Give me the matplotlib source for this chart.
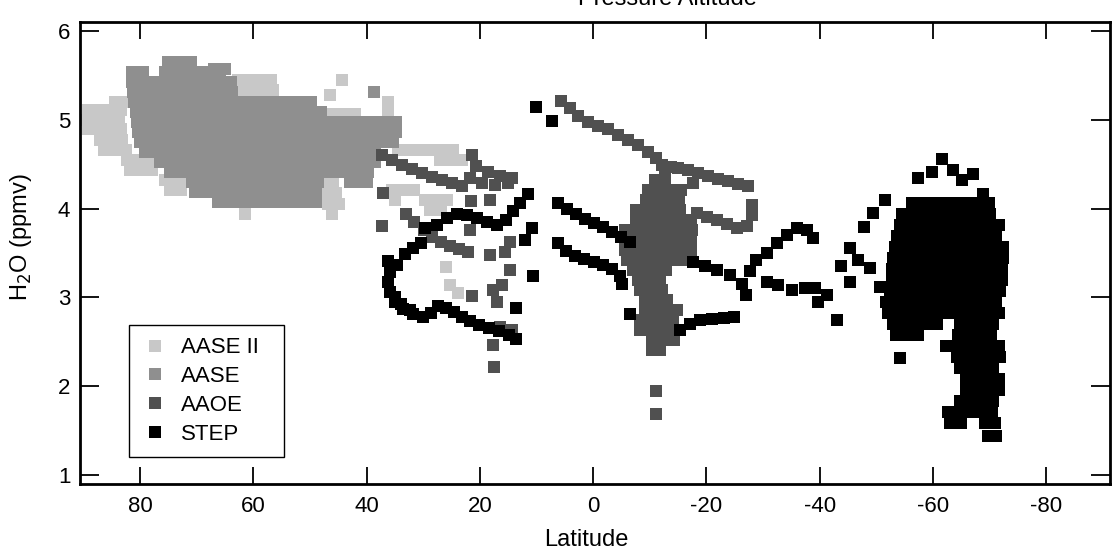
import matplotlib
matplotlib.use("Agg")
import matplotlib.pyplot as plt
from matplotlib.lines import Line2D

plt.rcParams['font.family'] = ['Liberation Sans', 'DejaVu Sans']

# ---------------- data (latitude, H2O ppmv) ----------------
series_names = ["AASE II", "AASE", "AAOE", "STEP"]
series_colors = ["#c8c8c8", "#8f8f8f", "#505050", "#000000"]

x_ticks = [80, 60, 40, 20, 0, -20, -40, -60, -80]
x_tick_labels = ["80", "60", "40", "20", "0", "-20", "-40", "-60", "-80"]
y_ticks = [1, 2, 3, 4, 5, 6]

# AASE II (light) : rows of (H2O, [latitudes])
aase2_rows = [
    (5.45, [62.7, 60.8, 58.8, 56.9, 44.3]),
    (5.34, [62.4, 60.4, 58.5, 56.5]),
    (5.28, [46.5]),
    (5.20, [84.5, 82.5, 36.2]),
    (5.11, [89.2, 87.3, 85.3, 83.4, 36.2]),
    (5.06, [47.9, 45.9, 44.0, 42.0]),
    (5.00, [89.6, 87.6, 85.7, 83.7]),
    (4.89, [89.2, 87.3, 85.3, 83.4]),
    (4.77, [87.1, 85.2, 83.2]),
    (4.66, [86.4, 84.5, 82.5, 34.5, 32.5, 30.6, 28.6, 26.7, 24.7]),
    (4.55, [82.3, 80.4, 78.4, 27.0, 25.1, 23.1]),
    (4.43, [81.8, 79.9, 77.9]),
    (4.32, [75.6, 73.7, 71.7]),
    (4.28, [47.9, 45.9]),
    (4.21, [74.7, 72.8, 35.5, 33.6, 31.6]),
    (4.17, [47.3, 45.4]),
    (4.10, [35.0, 29.7, 27.7, 25.8]),
    (4.05, [61.5, 46.8, 44.9]),
    (3.98, [28.8, 26.9]),
    (3.94, [61.5, 46.1]),
    (3.34, [26.0]),
    (3.14, [25.3]),
    (3.05, [23.9]),
]

# AASE (medium gray) : rows of (H2O, [latitudes])
aase_rows = [
    (5.65, [75.0, 73.0, 71.0]),
    (5.57, [67.0, 65.0]),
    (5.54, [81.4, 79.5, 75.6, 73.7, 71.7, 69.8, 67.8, 65.9]),
    (5.43, [81.4, 79.5, 77.5, 75.6, 73.7, 71.7, 69.8, 67.8, 65.9, 64.0]),
    (5.31, [81.2, 79.3, 77.3, 75.4, 73.5, 71.5, 69.6, 67.6, 65.7, 63.8, 38.7]),
    (5.20, [81.0, 79.1, 77.1, 75.2, 73.3, 71.3, 69.4, 67.4, 65.5, 63.6, 61.6,
            59.7, 57.7, 55.8, 53.8, 51.9, 49.9]),
    (5.09, [80.8, 78.9, 76.9, 75.0, 73.1, 71.1, 69.2, 67.2, 65.3, 63.4, 61.4,
            59.5, 57.5, 55.6, 53.7, 51.7, 49.8, 48.0]),
    (4.98, [80.6, 78.7, 76.7, 74.8, 72.9, 70.9, 69.0, 67.0, 65.1, 63.2, 61.2,
            59.3, 57.3, 55.4, 53.5, 51.5, 49.6, 47.6, 45.7, 43.8, 41.8, 39.9,
            37.9, 36.0, 34.8]),
    (4.86, [80.3, 78.4, 76.4, 74.5, 72.6, 70.6, 68.7, 66.7, 64.8, 62.9, 60.9,
            59.0, 57.0, 55.1, 53.2, 51.2, 49.3, 47.3, 45.4, 43.5, 41.5, 39.6,
            37.6, 35.7, 34.8]),
    (4.75, [80.0, 78.1, 76.1, 74.2, 72.3, 70.3, 68.4, 66.4, 64.5, 62.6, 60.6,
            58.7, 56.7, 54.8, 52.9, 50.9, 49.0, 47.0, 45.1, 43.2, 41.2, 39.3,
            37.3, 35.4]),
    (4.64, [79.1, 77.2, 75.2, 73.3, 71.4, 69.4, 67.5, 65.5, 63.6, 61.7, 59.7,
            57.8, 55.8, 53.9, 52.0, 50.0, 48.1, 46.1, 44.2, 42.3, 40.3, 38.5]),
    (4.52, [76.5, 74.6, 72.6, 70.7, 68.8, 66.8, 64.9, 62.9, 61.0, 59.1, 57.1,
            55.2, 53.2, 51.3, 49.4, 47.4, 45.5, 43.5, 41.6, 39.7, 38.5]),
    (4.41, [74.7, 72.8, 70.9, 68.9, 67.0, 65.0, 63.1, 61.2, 59.2, 57.3, 55.3,
            53.4, 51.5, 49.5, 47.6, 45.6, 43.7, 41.8, 39.8]),
    (4.30, [70.8, 68.9, 66.9, 65.0, 63.1, 61.1, 59.2, 57.2, 55.3, 53.4, 51.4,
            49.5, 48.6, 43.0, 41.0, 40.0]),
    (4.19, [70.3, 68.4, 66.4, 64.5, 62.6, 60.6, 58.7, 56.7, 54.8, 52.9, 50.9, 49.0]),
    (4.07, [66.3, 64.4, 62.4, 60.6, 58.7, 56.7, 54.8, 52.8, 50.9, 48.9]),
]

# AAOE (dark gray) : individual points (lat, H2O)
aaoe_points = [
    # northern track
    (37.3, 4.60), (35.5, 4.55), (33.7, 4.49), (32.0, 4.45), (30.2, 4.40),
    (28.4, 4.36), (26.7, 4.32), (24.9, 4.29), (23.1, 4.25),
    (21.4, 4.60), (20.7, 4.48), (18.6, 4.41), (16.4, 4.37), (14.3, 4.34),
    (21.7, 4.34), (19.6, 4.29), (17.3, 4.27), (15.0, 4.29),
    # scattered 10-38N
    (37.1, 4.18), (37.3, 3.80), (33.0, 3.94), (31.6, 3.85), (29.9, 3.76),
    (28.4, 3.68), (26.9, 3.62), (25.3, 3.58), (23.7, 3.54), (22.1, 3.51),
    (21.7, 3.76), (21.6, 4.09), (18.2, 4.10), (18.2, 3.48), (15.5, 3.51),
    (14.7, 3.62), (14.7, 3.31), (21.4, 3.02), (17.7, 3.08), (17.0, 2.95),
    (16.1, 3.14), (16.4, 2.67), (14.3, 2.63), (17.7, 2.46), (17.5, 2.22),
    # equatorial upper track
    (5.6, 5.21), (4.1, 5.13), (2.7, 5.04), (0.9, 4.98), (-0.9, 4.93),
    (-2.7, 4.89), (-4.4, 4.83), (-6.2, 4.77), (-8.0, 4.72), (-9.7, 4.64),
    (-11.1, 4.57), (-12.2, 4.49), (-12.7, 4.38), (-13.8, 4.47),
    (-15.0, 4.46), (-16.8, 4.43), (-18.6, 4.40), (-20.3, 4.37), (-22.1, 4.33),
    (-23.9, 4.31), (-25.6, 4.28), (-27.4, 4.25), (-17.7, 4.29),
    (-18.4, 3.95), (-20.1, 3.91), (-21.9, 3.87), (-23.7, 3.83), (-25.4, 3.78),
    (-27.2, 3.80), (-28.1, 3.93), (-28.1, 4.04),
    (-11.1, 1.95), (-11.1, 1.69),
]
aaoe_rows = [
    (4.32, [-11.0, -12.7]),
    (4.21, [-9.7, -11.7, -13.6, -15.5]),
    (4.10, [-9.4, -11.3, -13.3, -15.2]),
    (3.98, [-7.6, -9.5, -11.5, -13.4, -15.4]),
    (3.87, [-7.6, -9.5, -11.5, -13.4, -15.4, -17.3]),
    (3.76, [-5.7, -7.8, -9.7, -11.7, -13.6, -15.5, -17.5]),
    (3.65, [-5.7, -7.6, -9.5, -11.5, -13.4, -15.4, -17.3]),
    (3.53, [-5.7, -7.6, -9.5, -11.5, -13.4, -15.4, -17.3]),
    (3.42, [-6.0, -8.0, -9.9, -11.8, -13.8, -15.7]),
    (3.31, [-7.1, -9.0, -11.0, -12.9]),
    (3.20, [-8.0, -9.9, -11.8]),
    (3.08, [-8.3, -10.2, -12.2]),
    (2.97, [-9.2, -11.1, -13.1]),
    (2.86, [-9.2, -11.1, -13.1, -14.8]),
    (2.75, [-8.3, -10.2, -12.2, -14.1]),
    (2.63, [-8.3, -10.2, -12.2, -14.1]),
    (2.52, [-10.4, -12.4, -14.3]),
    (2.41, [-10.4, -11.8]),
]

# STEP (black)
step_points = [
    (10.1, 5.14), (7.2, 4.99),
    # loop 14-36N
    (36.2, 3.41), (35.9, 3.29), (36.2, 3.17), (35.9, 3.06), (35.0, 2.95),
    (33.6, 2.87), (31.8, 2.81), (30.0, 2.78), (28.6, 2.82), (27.4, 2.90),
    (26.0, 2.88), (24.6, 2.84), (23.1, 2.78), (21.7, 2.73), (20.1, 2.69),
    (18.4, 2.66), (16.6, 2.62), (14.8, 2.58), (13.6, 2.53),
    (35.0, 3.00), (33.9, 2.93), (32.4, 2.86),
    (34.6, 3.37), (33.2, 3.49), (31.8, 3.56), (30.4, 3.61),
    (13.6, 2.88), (10.6, 3.24), (12.0, 3.65), (10.8, 3.78),
    # upper track
    (29.7, 3.78), (27.6, 3.82), (25.8, 3.89), (24.0, 3.94), (22.3, 3.93),
    (20.5, 3.89), (18.7, 3.85), (17.0, 3.82), (15.4, 3.87), (14.1, 3.97),
    (12.9, 4.06), (11.5, 4.16),
    # equatorial tracks
    (6.2, 4.06), (4.6, 3.99), (3.0, 3.94), (1.4, 3.88), (-0.2, 3.84),
    (-1.8, 3.79), (-3.4, 3.74), (-4.9, 3.68), (-6.5, 3.62),
    (6.2, 3.61), (4.8, 3.52), (3.2, 3.47), (1.6, 3.43), (-0.2, 3.40),
    (-1.8, 3.36), (-3.4, 3.32), (-4.8, 3.24), (-5.1, 3.15),
    (-6.5, 2.81),
    (-15.4, 2.63), (-17.1, 2.70), (-18.9, 2.75), (-21.0, 2.76), (-23.1, 2.77),
    (-24.9, 2.78),
    (-17.7, 3.40), (-19.8, 3.35), (-21.9, 3.31), (-24.2, 3.25), (-26.3, 3.15),
    (-27.0, 3.03), (-27.7, 3.30), (-28.8, 3.42),
    (-30.7, 3.50), (-32.5, 3.61), (-34.3, 3.70), (-36.0, 3.78), (-37.8, 3.76),
    (-38.9, 3.67),
    (-30.7, 3.17), (-32.7, 3.14), (-35.2, 3.08), (-37.5, 3.11), (-39.2, 3.11),
    (-41.3, 3.03), (-39.8, 2.95),
    (-43.1, 2.75),
    (-45.4, 3.56), (-43.8, 3.35), (-46.8, 3.42), (-48.9, 3.33), (-45.4, 3.17),
    (-50.7, 3.12), (-51.6, 4.10), (-49.5, 3.95), (-47.9, 3.79),
    # southern cloud top
    (-57.4, 4.34), (-59.9, 4.41), (-61.7, 4.56), (-63.6, 4.43), (-65.2, 4.32),
    (-67.1, 4.39), (-68.9, 4.16),
    (-62.4, 2.45), (-54.2, 2.32),
]
step_rows = [
    (4.06, [-56.4, -58.3, -60.2, -62.2, -64.1, -66.1, -68.0, -70.0]),
    (3.94, [-54.6, -56.5, -58.5, -60.4, -62.4, -64.3, -66.3, -68.2, -70.1]),
    (3.82, [-54.2, -56.2, -58.1, -60.1, -62.0, -64.0, -65.9, -67.8, -69.8, -71.7]),
    (3.69, [-53.7, -55.7, -57.6, -59.5, -61.5, -63.4, -65.4, -67.3, -69.3, -71.2]),
    (3.57, [-53.4, -55.3, -57.2, -59.2, -61.1, -63.1, -65.0, -67.0, -68.9, -70.8, -72.4]),
    (3.44, [-53.0, -54.9, -56.9, -58.8, -60.8, -62.7, -64.7, -66.6, -68.6, -70.5, -72.4]),
    (3.32, [-52.8, -54.8, -56.7, -58.7, -60.6, -62.5, -64.5, -66.4, -68.4, -70.3, -72.3]),
    (3.20, [-52.8, -54.8, -56.7, -58.7, -60.6, -62.5, -64.5, -66.4, -68.4, -70.3, -72.3]),
    (3.07, [-52.5, -54.4, -56.4, -58.3, -60.2, -62.2, -64.1, -66.1, -68.0, -70.0, -71.9]),
    (2.95, [-51.8, -53.7, -55.7, -57.6, -59.5, -61.5, -63.4, -65.4, -67.3, -69.3, -71.2]),
    (2.83, [-52.1, -54.1, -56.0, -58.0, -59.9, -61.8, -63.8, -65.7, -67.7, -69.6, -71.6]),
    (2.70, [-53.0, -54.9, -56.9, -58.8, -60.8, -64.8, -66.8, -68.7, -70.7]),
    (2.58, [-53.5, -55.5, -57.4, -64.5, -66.4, -68.4, -70.3]),
    (2.45, [-64.0, -65.9, -67.8, -69.8, -71.7]),
    (2.33, [-64.3, -66.3, -68.2, -70.1, -71.9]),
    (2.21, [-64.8, -66.8, -68.7, -70.7]),
    (2.08, [-65.9, -67.8, -69.8, -71.6]),
    (1.96, [-65.9, -67.8, -69.8, -71.6]),
    (1.83, [-64.8, -66.8, -68.7, -70.7]),
    (1.71, [-62.7, -64.7, -66.6, -68.6, -70.5]),
    (1.59, [-63.1, -65.0, -69.3, -71.0]),
    (1.44, [-69.8, -71.2]),
]


def from_rows(rows):
    lat, h2o = [], []
    for h, lats in rows:
        for la in lats:
            lat.append(la)
            h2o.append(h)
    return lat, h2o


def from_points(points):
    return [p[0] for p in points], [p[1] for p in points]


a2_lat, a2_h = from_rows(aase2_rows)
a_lat, a_h = from_rows(aase_rows)
o_lat1, o_h1 = from_points(aaoe_points)
o_lat2, o_h2 = from_rows(aaoe_rows)
s_lat1, s_h1 = from_points(step_points)
s_lat2, s_h2 = from_rows(step_rows)

series = [
    (a2_lat, a2_h),
    (a_lat, a_h),
    (o_lat1 + o_lat2, o_h1 + o_h2),
    (s_lat1 + s_lat2, s_h1 + s_h2),
]

# ---------------- figure ----------------
fig = plt.figure(figsize=(11.18, 5.57), dpi=100)
ax = fig.add_axes([0.0716, 0.1311, 0.9213, 0.8294])

ms = 9.3
for (lat, h), name, col in zip(series, series_names, series_colors):
    ax.plot(lat, h, linestyle='none', marker='s', markersize=ms,
            markerfacecolor=col, markeredgewidth=0, label=name)

ax.set_xlim(90.6, -91.3)
ax.set_ylim(0.9, 6.1)
ax.set_xticks(x_ticks)
ax.set_xticklabels(x_tick_labels)
ax.set_yticks(y_ticks)

for s in ax.spines.values():
    s.set_linewidth(2.0)
ax.tick_params(axis='x', direction='in', length=12, width=1.3, top=True,
               labelsize=16, pad=9)
ax.tick_params(axis='y', direction='in', length=14, width=1.3, right=True,
               labelsize=16, pad=7)

handles = [Line2D([], [], linestyle='none', marker='s', markersize=ms,
                  markerfacecolor=c, markeredgewidth=0) for c in series_colors]
leg = ax.legend(handles, series_names, loc='lower left', mode='expand',
                bbox_to_anchor=(129 / 1118, 1 - 457 / 557, 155 / 1118, 131 / 557),
                bbox_transform=fig.transFigure, fontsize=16, frameon=True,
                fancybox=False, edgecolor='black', framealpha=1,
                borderpad=0.55, labelspacing=0.35, handletextpad=0.6,
                handlelength=1.2, borderaxespad=0)
leg.get_frame().set_linewidth(1.0)

fig.text(586 / 1118, 1 - 540 / 557, "Latitude", ha='center', va='center',
         fontsize=17)
fig.text(21 / 1118, 1 - 237 / 557, "H$_2$O (ppmv)", ha='center', va='center',
         rotation=90, fontsize=17)
fig.text(757 / 1118, 1 - 5 / 557, "Pressure Altitude", ha='right',
         va='baseline', fontsize=17)

fig.savefig("out.png", dpi=100)
